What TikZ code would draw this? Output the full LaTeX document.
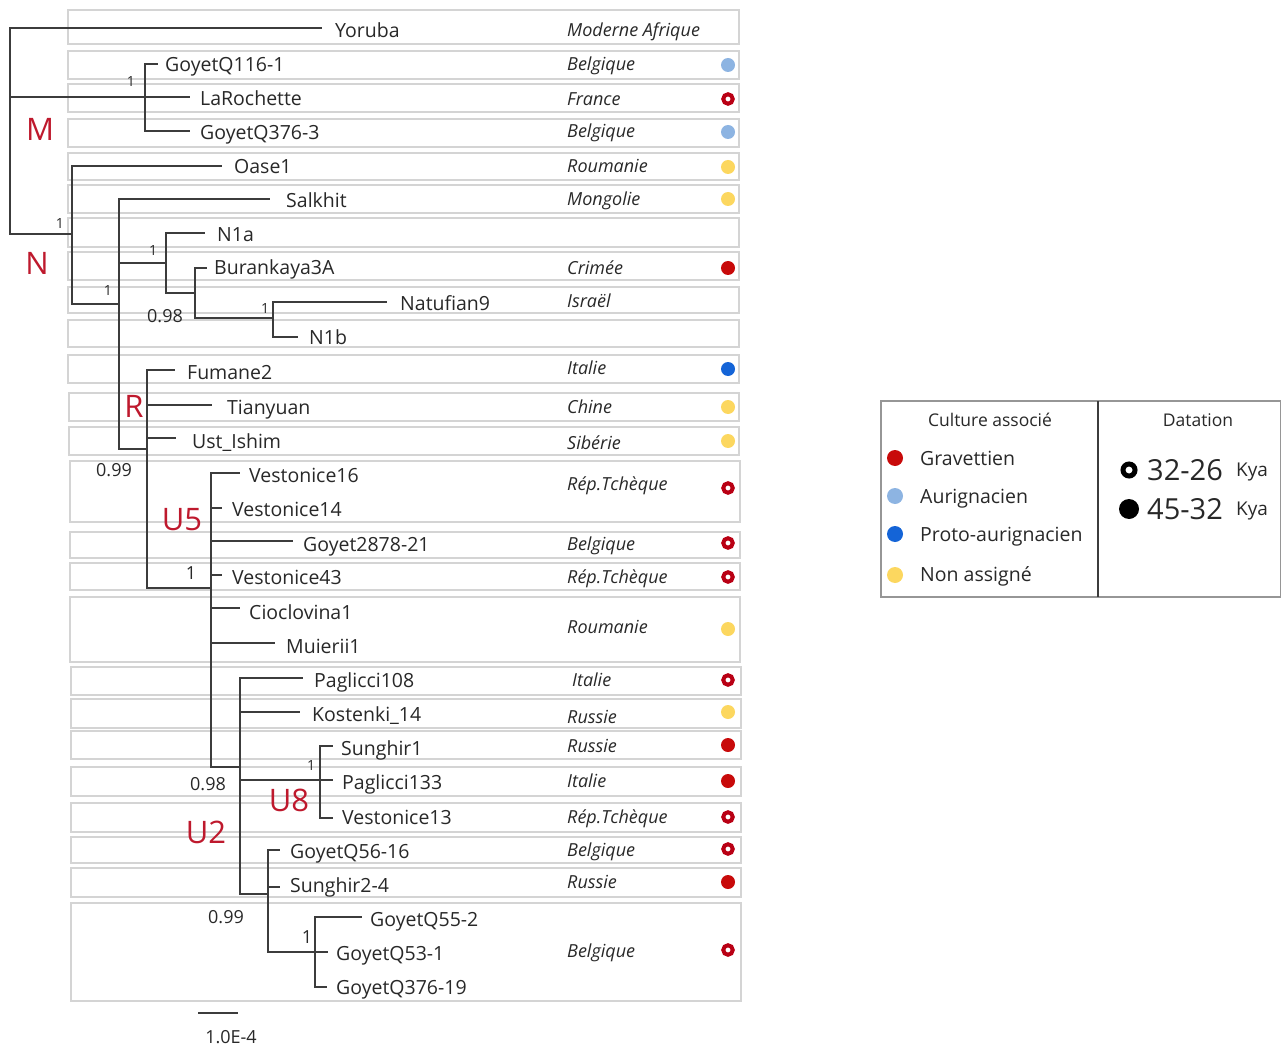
\documentclass[tikz,border=0pt]{standalone}
\usepackage{fontspec}
\setmainfont{Open Sans}
\definecolor{treegray}{RGB}{60,60,60}
\definecolor{boxgray}{RGB}{212,212,212}
\definecolor{legbox}{RGB}{150,150,150}
\definecolor{txt}{RGB}{40,40,40}
\definecolor{cladered}{RGB}{190,25,45}
\definecolor{cred}{RGB}{200,10,10}
\definecolor{ringred}{RGB}{185,0,20}
\definecolor{lblue}{RGB}{141,180,226}
\definecolor{cblue}{RGB}{20,100,215}
\definecolor{cyellow}{RGB}{252,215,95}
\newcommand\fsName{\fontsize{19.5}{22}\selectfont}
\newcommand\fsCountry{\fontsize{18}{21}\selectfont\itshape}
\newcommand\fsSup{\fontsize{18}{21}\selectfont}
\newcommand\fsSmall{\fontsize{14}{16}\selectfont}
\newcommand\fsClade{\fontsize{31}{34}\selectfont}
\newcommand\fsLeg{\fontsize{19.5}{22}\selectfont}
\newcommand\fsLegT{\fontsize{17.5}{20}\selectfont}
\begin{document}
\begin{tikzpicture}[x=1pt,y=-1pt,
  tree/.style={draw=treegray, line width=1.2pt},
  rowbox/.style={draw=boxgray, line width=1.3pt},
  leaf/.style={anchor=west, inner sep=0pt, font=\fsName, text height=14pt, text depth=0pt, text=txt},
  country/.style={anchor=west, inner sep=0pt, font=\fsCountry, text height=12.9pt, text depth=0pt, text=txt},
  support/.style={inner sep=0pt, font=\fsSup, text height=12.9pt, text depth=0pt, text=txt},
  smallsup/.style={inner sep=0pt, font=\fsSmall, text height=10pt, text depth=0pt, text=txt},
  clade/.style={inner sep=0pt, font=\fsClade, text=cladered, text height=22.2pt, text depth=0pt},
  mdot/.style={circle, fill=#1, minimum size=14pt, inner sep=0pt},
  ring/.style={circle, draw=ringred, line width=4pt, minimum size=9.5pt, inner sep=0pt},
  legtext/.style={anchor=west, inner sep=0pt, font=\fsLeg, text height=14pt, text depth=0pt, text=txt},
  legtitle/.style={inner sep=0pt, font=\fsLegT, text height=12.5pt, text depth=0pt, text=txt},
  bignum/.style={anchor=west, inner sep=0pt, font=\fontsize{29}{32}\selectfont, text height=20.7pt, text depth=0pt, text=txt},
  kya/.style={anchor=west, inner sep=0pt, font=\fontsize{19}{22}\selectfont, text height=13.6pt, text depth=0pt, text=txt}
]
\useasboundingbox (0,0) rectangle (1281,1048);

% ---------- row boxes ----------
\foreach \t/\b/\l/\r in {10/44/68/739, 51/79/68/739, 84/112/68/739, 119/147/68/739,
  153/180/68/739, 185/213/68/739, 218/247/68/739, 252/280/68/739, 287/313/68/739,
  320/347/68/739, 355/383/68/739, 393/421/69/739, 427/455/69/739, 461/522/70/740,
  532/558/70/740, 563/590/70/740, 597/662/70/740, 667/695/71/741, 699/728/71/741,
  731/759/71/741, 767/796/71/741, 803/832/71/741, 837/863/71/741, 868/897/71/741,
  903/1001/71/741}
  \draw[rowbox] (\l,\t) rectangle (\r,\b);

% ---------- internal nodes ----------
\coordinate (root) at (10,97);
\coordinate (nM) at (145,97);
\coordinate (nN) at (72,234);
\coordinate (n2) at (119,304);
\coordinate (n3) at (166,263);
\coordinate (n4) at (195,293);
\coordinate (n5) at (273,318);
\coordinate (nR) at (147,449);
\coordinate (nU) at (211,588);
\coordinate (nU2) at (240,767);
\coordinate (nU8) at (320,780);
\coordinate (n6) at (268,894);
\coordinate (n7) at (315,952);

% ---------- branch tips ----------
\coordinate (tYor) at (322,28);
\coordinate (tG116) at (158,64);
\coordinate (tLaR) at (190,97);
\coordinate (tG3763) at (190,131);
\coordinate (tOase) at (222,166);
\coordinate (tSal) at (270,199);
\coordinate (tN1a) at (205,233);
\coordinate (tBur) at (207,268);
\coordinate (tNat) at (387,302);
\coordinate (tN1b) at (298,337);
\coordinate (tFum) at (175,370);
\coordinate (tTia) at (212,405);
\coordinate (tUst) at (176,438);
\coordinate (tV16) at (240,473);
\coordinate (tV14) at (222,508);
\coordinate (tG2878) at (293,541);
\coordinate (tV43) at (222,575);
\coordinate (tCio) at (240,608);
\coordinate (tMui) at (275,643);
\coordinate (tP108) at (303,678);
\coordinate (tKos) at (300,712);
\coordinate (tSun1) at (333,746);
\coordinate (tP133) at (333,780);
\coordinate (tV13) at (333,818);
\coordinate (tG5616) at (280,850);
\coordinate (tSun24) at (280,887);
\coordinate (tG552) at (362,917);
\coordinate (tG531) at (328,952);
\coordinate (tG37619) at (327,987);

% ---------- branches ----------
\draw[tree] (root) |- (tYor);
\draw[tree] (root) -- (nM);
\draw[tree] (root) |- (nN);
\draw[tree] (nM) |- (tG116);
\draw[tree] (nM) -- (tLaR);
\draw[tree] (nM) |- (tG3763);
\draw[tree] (nN) |- (tOase);
\draw[tree] (nN) |- (n2);
\draw[tree] (n2) |- (tSal);
\draw[tree] (n2) |- (n3);
\draw[tree] (n2) |- (nR);
\draw[tree] (n3) |- (tN1a);
\draw[tree] (n3) |- (n4);
\draw[tree] (n4) |- (tBur);
\draw[tree] (n4) |- (n5);
\draw[tree] (n5) |- (tNat);
\draw[tree] (n5) |- (tN1b);
\foreach \c in {tFum,tTia,tUst,nU} \draw[tree] (nR) |- (\c);
\foreach \c in {tV16,tV14,tG2878,tV43,tCio,tMui,nU2} \draw[tree] (nU) |- (\c);
\foreach \c in {tP108,tKos,nU8,n6} \draw[tree] (nU2) |- (\c);
\foreach \c in {tSun1,tP133,tV13} \draw[tree] (nU8) |- (\c);
\foreach \c in {tG5616,tSun24,n7} \draw[tree] (n6) |- (\c);
\foreach \c in {tG552,tG531,tG37619} \draw[tree] (n7) |- (\c);

% ---------- leaf names ----------
\node[leaf] (Yoruba) at (335,31) {Yoruba};
\node[leaf] (GQ116) at (165,65) {GoyetQ116-1};
\node[leaf] (LaR) at (200,99) {LaRochette};
\node[leaf] (GQ3763) at (200,133) {GoyetQ376-3};
\node[leaf] (Oase) at (234,167) {Oase1};
\node[leaf] (Salkhit) at (286,201) {Salkhit};
\node[leaf] (N1a) at (217,235) {N1a};
\node[leaf] (Bur) at (214,268) {Burankaya3A};
\node[leaf] (Nat) at (400,304) {Natufian9};
\node[leaf] (N1b) at (309,337) {N1b};
\node[leaf] (Fum) at (187,372) {Fumane2};
\node[leaf] (Tia) at (227,407) {Tianyuan};
\node[leaf] (Ust) at (192,441) {Ust\_Ishim};
\node[leaf] (V16) at (249,475) {Vestonice16};
\node[leaf] (V14) at (232,509) {Vestonice14};
\node[leaf] (G2878) at (303,544) {Goyet2878-21};
\node[leaf] (V43) at (232,577) {Vestonice43};
\node[leaf] (Cio) at (249,612) {Cioclovina1};
\node[leaf] (Mui) at (286,646) {Muierii1};
\node[leaf] (P108) at (314,680) {Paglicci108};
\node[leaf] (Kos) at (312,714) {Kostenki\_14};
\node[leaf] (Sun1) at (341,748) {Sunghir1};
\node[leaf] (P133) at (342,782) {Paglicci133};
\node[leaf] (V13) at (342,817) {Vestonice13};
\node[leaf] (G5616) at (290,851) {GoyetQ56-16};
\node[leaf] (Sun24) at (290,885) {Sunghir2-4};
\node[leaf] (G552) at (370,919) {GoyetQ55-2};
\node[leaf] (G531) at (336,953) {GoyetQ53-1};
\node[leaf] (G37619) at (336,987) {GoyetQ376-19};

% ---------- countries ----------
\node[country] (c1) at (567,30) {Moderne Afrique};
\node[country] (c2) at (567,64) {Belgique};
\node[country] (c3) at (567,99) {France};
\node[country] (c4) at (567,131) {Belgique};
\node[country] (c5) at (567,166) {Roumanie};
\node[country] (c6) at (567,199) {Mongolie};
\node[country] (c8) at (567,268) {Crimée};
\node[country] (c9) at (567,301) {Israël};
\node[country] (c11) at (567,368) {Italie};
\node[country] (c12) at (567,407) {Chine};
\node[country] (c13) at (567,443) {Sibérie};
\node[country] (c14) at (567,484) {Rép.Tchèque};
\node[country] (c15) at (567,544) {Belgique};
\node[country] (c16) at (567,577) {Rép.Tchèque};
\node[country] (c17) at (567,627) {Roumanie};
\node[country] (c18) at (572,680) {Italie};
\node[country] (c19) at (567,717) {Russie};
\node[country] (c20) at (567,746) {Russie};
\node[country] (c21) at (567,781) {Italie};
\node[country] (c22) at (567,817) {Rép.Tchèque};
\node[country] (c23) at (567,850) {Belgique};
\node[country] (c24) at (567,882) {Russie};
\node[country] (c25) at (567,951) {Belgique};

% ---------- culture / date markers ----------
\node[mdot=lblue] (d2) at (728,65) {};
\node[ring] (d3) at (728,99) {};
\node[mdot=lblue] (d4) at (728,132) {};
\node[mdot=cyellow] (d5) at (728,167) {};
\node[mdot=cyellow] (d6) at (728,199) {};
\node[mdot=cred] (d8) at (728,268) {};
\node[mdot=cblue] (d11) at (728,369) {};
\node[mdot=cyellow] (d12) at (728,407) {};
\node[mdot=cyellow] (d13) at (728,441) {};
\node[ring] (d14) at (728,488) {};
\node[ring] (d15) at (728,543) {};
\node[ring] (d16) at (728,577) {};
\node[mdot=cyellow] (d17) at (728,629) {};
\node[ring] (d18) at (728,680) {};
\node[mdot=cyellow] (d19) at (728,712) {};
\node[mdot=cred] (d20) at (728,745) {};
\node[mdot=cred] (d21) at (728,781) {};
\node[ring] (d22) at (728,817) {};
\node[ring] (d23) at (728,849) {};
\node[mdot=cred] (d24) at (728,882) {};
\node[ring] (d25) at (728,950) {};

% ---------- support values ----------
\node[smallsup] (s1) at (131,82) {1};
\node[smallsup] (s2) at (60,224) {1};
\node[smallsup] (s3) at (153,251) {1};
\node[smallsup] (s4) at (108,290) {1};
\node[smallsup] (s5) at (265,308) {1};
\node[support] (s6) at (165,316) {0.98};
\node[support] (s7) at (114,470) {0.99};
\node[support] (s8) at (191,573) {1};
\node[support] (s9) at (208,784) {0.98};
\node[smallsup] (s10) at (311,765) {1};
\node[support] (s11) at (226,917) {0.99};
\node[support] (s12) at (307,937) {1};

% ---------- clade labels ----------
\node[clade] (kM) at (40,129) {M};
\node[clade] (kN) at (37,263) {N};
\node[clade] (kR) at (134,406) {R};
\node[clade] (kU5) at (182,519) {U5};
\node[clade] (kU8) at (289,800) {U8};
\node[clade] (kU2) at (206,832) {U2};

% ---------- scale bar ----------
\coordinate (sbL) at (198,1013);
\coordinate (sbR) at (238,1013);
\draw[tree] (sbL) -- (sbR);
\node[support] (sbl) at (231,1037) {1.0E-4};

% ---------- legend ----------
\draw[draw=legbox, line width=1.3pt] (881,401) rectangle (1281,597);
\coordinate (divT) at (1098,401);
\coordinate (divB) at (1098,597);
\draw[draw=treegray, line width=1.2pt] (divT) -- (divB);
\node[legtitle] (lt1) at (990,420) {Culture associé};
\node[legtitle] (lt2) at (1198,420) {Datation};
\node[circle, fill=cred, minimum size=16pt, inner sep=0pt] (lg1) at (895,458) {};
\node[circle, fill=lblue, minimum size=16pt, inner sep=0pt] (lg2) at (895,496) {};
\node[circle, fill=cblue, minimum size=16pt, inner sep=0pt] (lg3) at (895,534) {};
\node[circle, fill=cyellow, minimum size=16pt, inner sep=0pt] (lg4) at (895,575) {};
\node[legtext] (lx1) at (920,458) {Gravettien};
\node[legtext] (lx2) at (920,496) {Aurignacien};
\node[legtext] (lx3) at (920,534) {Proto-aurignacien};
\node[legtext] (lx4) at (920,574) {Non assigné};
\node[circle, draw=black, line width=5pt, minimum size=12pt, inner sep=0pt] (lr1) at (1129,470) {};
\node[circle, fill=black, minimum size=20pt, inner sep=0pt] (lr2) at (1129,509) {};
\node[bignum] (la1) at (1147,470) {32-26};
\node[bignum] (la2) at (1147,509) {45-32};
\node[kya] (lk1) at (1236,470) {Kya};
\node[kya] (lk2) at (1236,509) {Kya};
\end{tikzpicture}
\end{document}
